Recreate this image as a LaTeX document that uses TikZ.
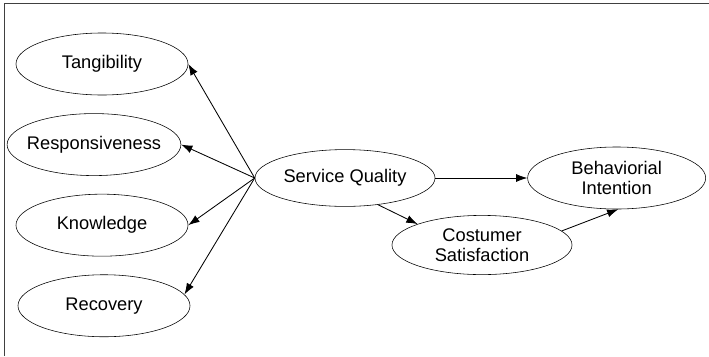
\documentclass[tikz,border=0pt]{standalone}
\usepackage{fontspec}
\setmainfont{Liberation Sans}
\usetikzlibrary{shapes,arrows.meta,positioning}

\begin{document}
\begin{tikzpicture}[
    x=0.025cm, y=-0.025cm,
    construct/.style={draw, ellipse, minimum width=4.3cm, minimum height=1.55cm, inner xsep=-4pt, inner ysep=1pt, font=\fontsize{13}{14.5}\selectfont, align=center},
    link/.style={-{Latex[length=2.8mm,width=2mm]}, line width=0.6pt},
    node distance=0.45cm
]
\useasboundingbox (0,0) rectangle (709,356);
\draw[line width=1pt, black!75] (709,3.5) -- (4.5,3.5) -- (4.5,356);

% dimensions
\node[construct] (tan) at (102,64) {Tangibility};
\node[construct, below=of tan, xshift=-0.2cm] (res) {Responsiveness};
\node[construct, below=of res, xshift=0.2cm] (kno) {Knowledge};
\node[construct, below=of kno, xshift=0.05cm] (rec) {Recovery};

% main constructs
\node[construct, minimum width=4.5cm, minimum height=1.42cm] (sq) at (345,178) {Service Quality};
\node[construct, minimum width=4.45cm, right=2.3cm of sq] (bi) {Behaviorial\\Intention};
\node[construct, minimum width=4.5cm, minimum height=1.48cm] (cs) at (482,245) {Costumer\\Satisfaction};

\draw[link] (sq.west) -- (tan.east);
\draw[link] (sq.west) -- (res.east);
\draw[link] (sq.west) -- (kno.east);
\draw[link] (sq.west) -- (rec.8);
\draw[link] (sq.east) -- (bi.west);
\draw[link] (sq.-39) -- (cs.162);
\draw[link] (cs.10) -- (bi.-87);
\end{tikzpicture}
\end{document}
